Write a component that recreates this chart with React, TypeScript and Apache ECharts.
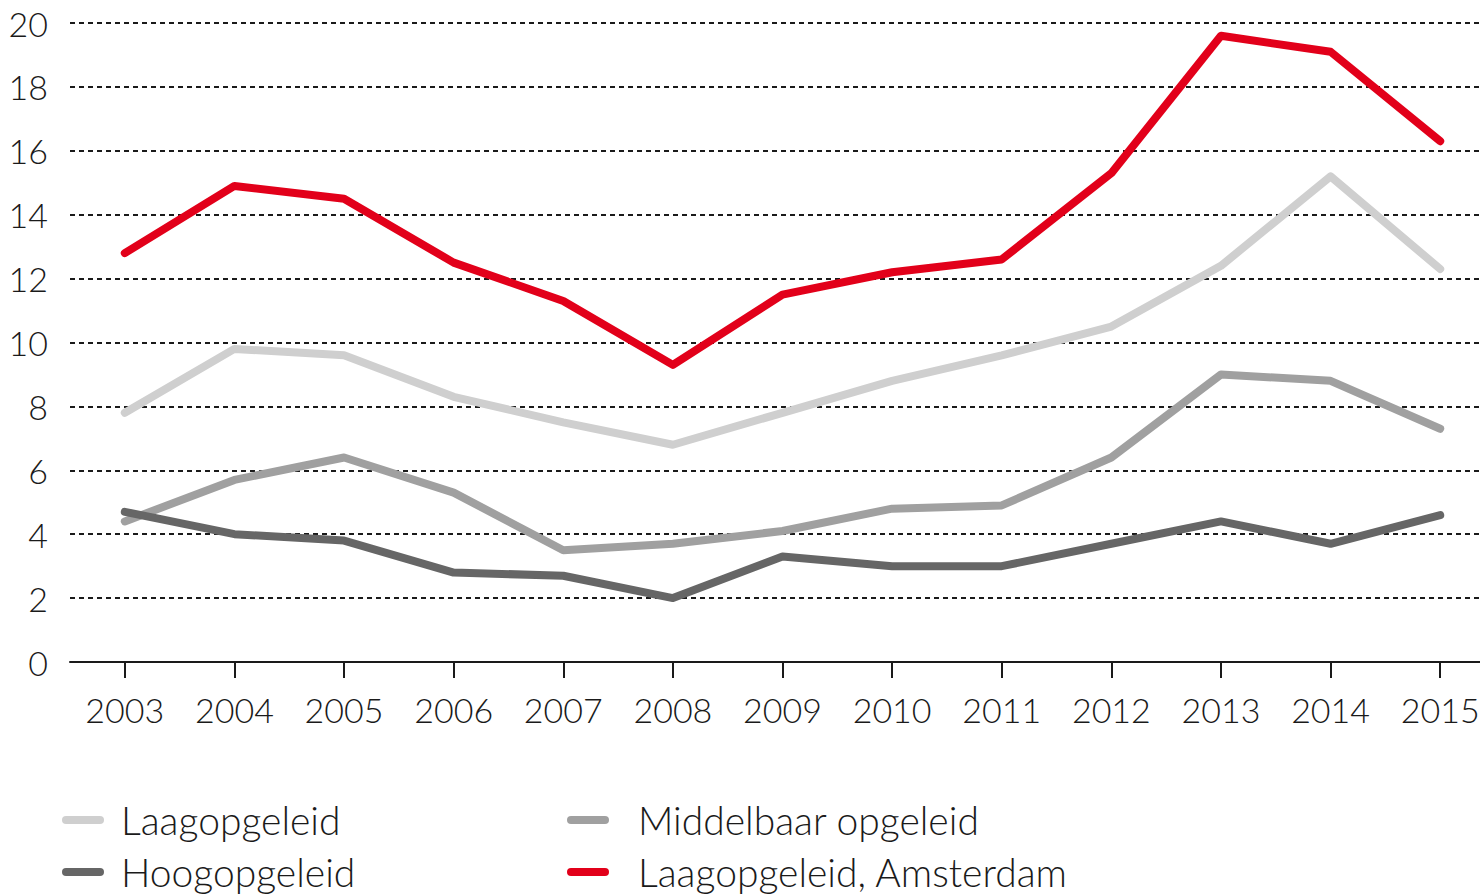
import React, { useEffect, useRef } from "react";
import * as echarts from "echarts";

const years = ["2003", "2004", "2005", "2006", "2007", "2008", "2009", "2010", "2011", "2012", "2013", "2014", "2015"];
const laagopgeleid = [7.8, 9.8, 9.6, 8.3, 7.5, 6.8, 7.8, 8.8, 9.6, 10.5, 12.4, 15.2, 12.3];
const middelbaar = [4.4, 5.7, 6.4, 5.3, 3.5, 3.7, 4.1, 4.8, 4.9, 6.4, 9.0, 8.8, 7.3];
const hoogopgeleid = [4.7, 4.0, 3.8, 2.8, 2.7, 2.0, 3.3, 3.0, 3.0, 3.7, 4.4, 3.7, 4.6];
const laagAmsterdam = [12.8, 14.9, 14.5, 12.5, 11.3, 9.3, 11.5, 12.2, 12.6, 15.3, 19.6, 19.1, 16.3];

const names = ["Laagopgeleid", "Middelbaar opgeleid", "Hoogopgeleid", "Laagopgeleid, Amsterdam"];
const colors = ["#cfcfcf", "#a0a0a0", "#666666", "#e2001a"];

const FONT = "Lato";
const capsule = "path://M4,0 H38 A4,4 0 0 1 38,8 H4 A4,4 0 0 1 4,0 Z";

export default function App() {
  const ref = useRef<HTMLDivElement>(null);
  useEffect(() => {
    if (!ref.current) return;
    const chart = echarts.init(ref.current, undefined, { renderer: "svg" });
    const data = [laagopgeleid, middelbaar, hoogopgeleid, laagAmsterdam];
    const legendCommon = (padLeft: number) => ({
      orient: "vertical" as const,
      padding: 0,
      height: 94,
      itemWidth: 42,
      itemHeight: 8,
      itemGap: 10,
      icon: capsule,
      textStyle: { fontFamily: FONT, fontWeight: 300, fontSize: 39, color: "#1a1a1a", lineHeight: 42, padding: [0, 0, 0, padLeft] },
    });
    chart.setOption({
      animation: false,
      backgroundColor: "#ffffff",
      grid: { left: 70, right: 5, top: 23, bottom: 233, containLabel: false },
      legend: [
        { ...legendCommon(12), left: 62, top: 799, data: [names[0], names[2]] },
        { ...legendCommon(24), left: 567, top: 799, data: [names[1], names[3]] },
      ],
      xAxis: {
        type: "category",
        data: years,
        boundaryGap: true,
        axisLine: { show: true, lineStyle: { color: "#1a1a1a", width: 2 } },
        axisTick: { show: true, alignWithLabel: true, length: 16, lineStyle: { color: "#1a1a1a", width: 2 } },
        axisLabel: { fontFamily: FONT, fontWeight: 300, fontSize: 34, color: "#1a1a1a", margin: 30 },
        splitLine: { show: false },
      },
      yAxis: {
        type: "value",
        min: 0,
        max: 20,
        interval: 2,
        axisLine: { show: false },
        axisTick: { show: false },
        axisLabel: { fontFamily: FONT, fontWeight: 300, fontSize: 34, color: "#1a1a1a", margin: 22 },
        splitLine: { show: true, lineStyle: { color: "#1a1a1a", width: 2, type: [5, 4] } },
      },
      series: data.map((d, i) => ({
        name: names[i],
        type: "line",
        data: d,
        symbol: "none",
        color: colors[i],
        lineStyle: { color: colors[i], width: 8, cap: "round", join: "round" },
        z: 3 + i,
      })),
    });
    return () => chart.dispose();
  }, []);
  return (
    <div style={{ position: "absolute", left: 0, top: 0, width: 1480, height: 895, overflow: "hidden", background: "#fff" }}>
      <div ref={ref} style={{ width: 1500, height: 895 }} />
    </div>
  );
}
